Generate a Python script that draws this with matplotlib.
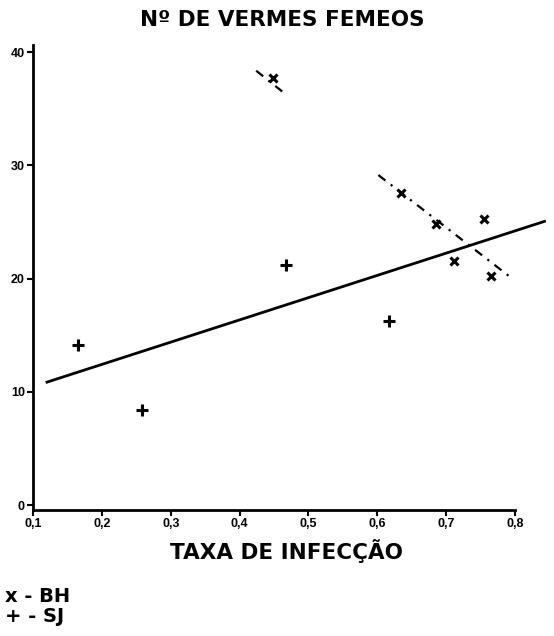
import matplotlib
matplotlib.use("Agg")
import matplotlib.pyplot as plt

plt.rcParams['font.family'] = ['Liberation Sans', 'DejaVu Sans']

# Data
bh_x = [0.448, 0.635, 0.685, 0.712, 0.7555, 0.765]
bh_y = [37.75, 27.53, 24.8, 21.6, 25.3, 20.2]
sj_x = [0.165, 0.258, 0.467, 0.6175]
sj_y = [14.16, 8.37, 21.2, 16.28]

fit_x = [0.118, 0.845]
fit_y = [10.82, 25.1]
bh_fit1_x = [0.424, 0.467]
bh_fit1_y = [38.37, 36.28]
bh_fit2_x = [0.6016, 0.7914]
bh_fit2_y = [29.15, 20.23]

xticks = [0.1, 0.2, 0.3, 0.4, 0.5, 0.6, 0.7, 0.8]
xticklabels = ['0,1', '0,2', '0,3', '0,4', '0,5', '0,6', '0,7', '0,8']
yticks = [0, 10, 20, 30, 40]
yticklabels = ['0', '10', '20', '30', '40']

fig = plt.figure(figsize=(5.54, 6.36), dpi=100)
ax = fig.add_axes([0.0601, 0.1981, 0.9314, 0.7311])
ax.set_xlim(0.1, 0.85)
ax.set_ylim(-0.44, 40.64)

ax.plot(fit_x, fit_y, color='black', lw=2.0, solid_capstyle='butt', clip_on=False)
ax.plot(bh_fit1_x, bh_fit1_y, color='black', lw=1.6, linestyle=(0, (4, 3, 1, 3)), clip_on=False)
ax.plot(bh_fit2_x, bh_fit2_y, color='black', lw=1.6, linestyle=(0, (4, 3, 1, 3)), clip_on=False)
ax.plot(bh_x, bh_y, linestyle='none', marker='x', markersize=6, mew=2.2, color='black', clip_on=False)
ax.plot(sj_x, sj_y, linestyle='none', marker='+', markersize=8, mew=2.2, color='black', clip_on=False)

for s in ['top', 'right']:
    ax.spines[s].set_visible(False)
ax.spines['left'].set_linewidth(2.0)
ax.spines['bottom'].set_linewidth(2.0)
ax.spines['bottom'].set_bounds(0.1, 0.8)

ax.set_xticks(xticks)
ax.set_xticklabels(xticklabels)
ax.set_yticks(yticks)
ax.set_yticklabels(yticklabels)
ax.tick_params(axis='both', direction='out', length=4, width=1.5, labelsize=9, pad=2)
for lab in ax.get_xticklabels() + ax.get_yticklabels():
    lab.set_fontweight('bold')

big = ['DejaVu Sans']
fig.text(282 / 554, 1 - 20 / 636, 'Nº DE VERMES FEMEOS', ha='center', va='center',
         fontsize=15.5, fontweight='bold', family=big)
fig.text(286 / 554, 1 - 551 / 636, 'TAXA DE INFECÇÃO', ha='center', va='center',
         fontsize=15.5, fontweight='bold', family=big)
fig.text(5 / 554, 1 - 597 / 636, 'x - BH', ha='left', va='center',
         fontsize=14, fontweight='bold', family=big)
fig.text(5 / 554, 1 - 617 / 636, '+ - SJ', ha='left', va='center',
         fontsize=14, fontweight='bold', family=big)

fig.savefig('out.png', dpi=100)
